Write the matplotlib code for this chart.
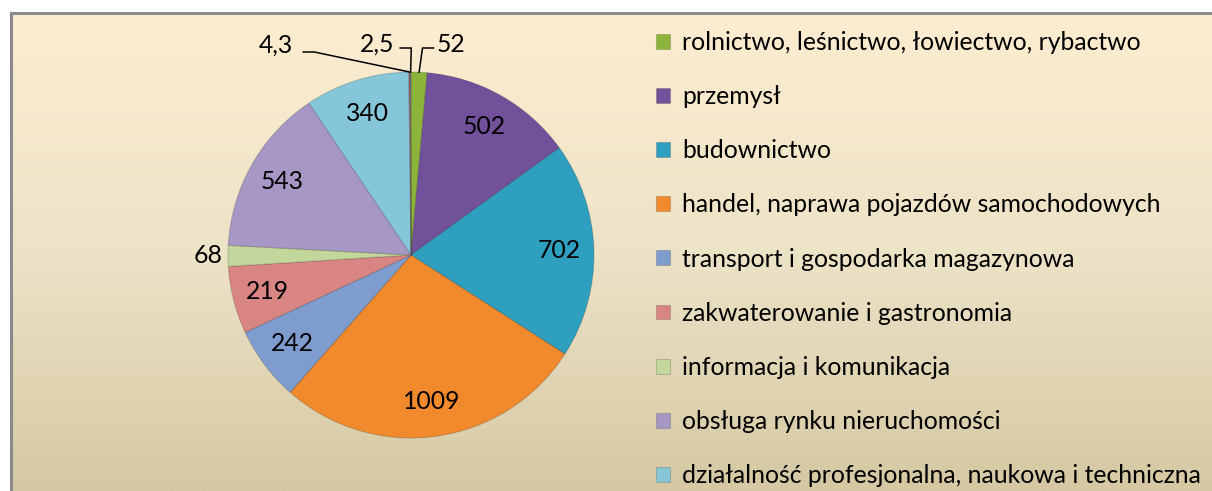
import numpy as np
import matplotlib
matplotlib.use("Agg")
import matplotlib.pyplot as plt
from matplotlib.colors import LinearSegmentedColormap

plt.rcParams["font.family"] = ["Lato", "DejaVu Sans"]

# data
categories = [
    "rolnictwo, leśnictwo, łowiectwo, rybactwo",
    "przemysł",
    "budownictwo",
    "handel, naprawa pojazdów samochodowych",
    "transport i gospodarka magazynowa",
    "zakwaterowanie i gastronomia",
    "informacja i komunikacja",
    "obsługa rynku nieruchomości",
    "działalność profesjonalna, naukowa i techniczna",
    "",
    "",
]
values = [52, 502, 702, 1009, 242, 219, 68, 543, 340, 4.3, 2.5]
value_labels = ["52", "502", "702", "1009", "242", "219", "68", "543", "340", "4,3", "2,5"]
colors = ["#8DB43A", "#71529A", "#2E9FBF", "#F08A2C", "#7F9CCF", "#D98583",
          "#C3D69B", "#A797C4", "#86C6D9", "#B65A58", "#5C7DB5"]
n_legend = 9

W, H = 1212, 491
fig = plt.figure(figsize=(W / 100, H / 100), dpi=100)
fig.patch.set_facecolor("white")
ax = fig.add_axes([0, 0, 1, 1])

# background gradient inside the chart frame
bg = LinearSegmentedColormap.from_list(
    "bg", ["#D5C8A3", "#EDE3C7", "#FDEDD0"])
grad = np.linspace(0, 1, 256).reshape(-1, 1)
ax.imshow(grad, cmap=bg, origin="lower", aspect="auto",
          extent=(10, W, 0, H - 12), zorder=0)
ax.plot([11, 11, W], [0, H - 13, H - 13], color="#8A8A8A", lw=2.2, zorder=1,
        solid_joinstyle="miter")

cx, cy, R = 411, 236, 183
wedges, _ = ax.pie(
    values,
    colors=colors,
    startangle=90,
    counterclock=False,
    center=(cx, cy),
    radius=R,
    frame=True,
    wedgeprops=dict(edgecolor="#00000028", linewidth=0.8),
)
ax.set_xlim(0, W)
ax.set_ylim(0, H)
ax.axis("off")
for w in wedges:
    w.set_zorder(2)

fs = 17.8
# value labels inside the slices
for i, (w, lab) in enumerate(zip(wedges, value_labels)):
    mid = np.deg2rad((w.theta1 + w.theta2) / 2)
    if i in (0, 9, 10):
        continue
    dist = 1.11 if i == 6 else 0.81
    ax.text(cx + dist * R * np.cos(mid), cy + dist * R * np.sin(mid), lab,
            ha="center", va="center", fontsize=fs, zorder=4)

# small slices at the top get leader lines
leaders = {0: (451, 447, -1), 10: (377, 447, 1), 9: (276, 446, 1)}
for i, (tx, ty, side) in leaders.items():
    w = wedges[i]
    mid = np.deg2rad((w.theta1 + w.theta2) / 2)
    axp, ayp = cx + R * np.cos(mid), cy + R * np.sin(mid)
    ax.text(tx, ty, value_labels[i], ha="center", va="center",
            fontsize=fs, zorder=4)
    half = 6 + 11.5 * len(value_labels[i]) / 2 + (4 if i == 9 else 0)
    ex = tx + side * half
    ly = ty - 4 if i != 9 else ty - 7
    ax.plot([ex, ex + side * 11, axp], [ly, ly, ayp], color="black",
            lw=1.1, zorder=3)

leg = ax.legend(
    wedges[:n_legend],
    categories[:n_legend],
    loc="upper left",
    bbox_to_anchor=(656 / W, 1 - 31 / H),
    frameon=False,
    fontsize=fs,
    handlelength=0.55,
    handleheight=0.55,
    handletextpad=0.5,
    labelspacing=1.26,
    borderpad=0,
    borderaxespad=0,
)

fig.savefig("out.png", dpi=100)
